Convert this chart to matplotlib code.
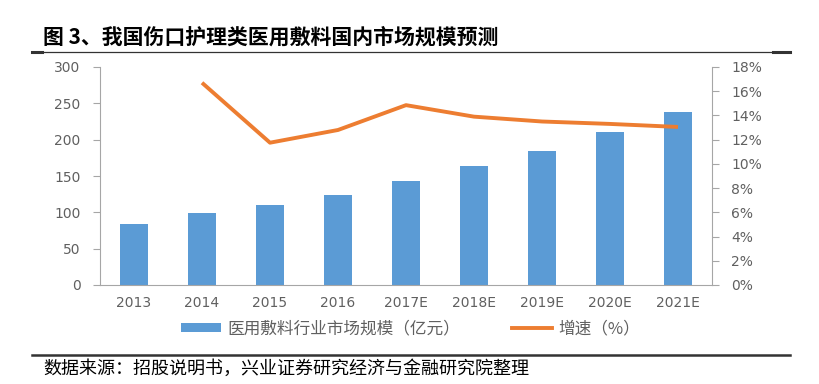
import matplotlib
matplotlib.use("Agg")
import matplotlib.pyplot as plt
from matplotlib.lines import Line2D
from matplotlib.patches import Patch

plt.rcParams['font.family'] = ['Noto Sans CJK SC', 'DejaVu Sans']

categories = ["2013", "2014", "2015", "2016", "2017E", "2018E", "2019E", "2020E", "2021E"]
market_size = [84.5, 99, 110.7, 124.5, 143.7, 164, 185, 210.8, 238.4]
growth_cats = ["2014", "2015", "2016", "2017E", "2018E", "2019E", "2020E", "2021E"]
growth = [16.7, 11.75, 12.8, 14.85, 13.9, 13.5, 13.3, 13.05]
left_ticks = [0, 50, 100, 150, 200, 250, 300]
right_ticks = [0, 2, 4, 6, 8, 10, 12, 14, 16, 18]

title = "图 3、我国伤口护理类医用敷料国内市场规模预测"
source = "数据来源：招股说明书，兴业证券研究经济与金融研究院整理"
bar_label = "医用敷料行业市场规模（亿元）"
line_label = "增速（%）"

W, H = 820, 384
fig = plt.figure(figsize=(W / 100, H / 100), dpi=100)
ax = fig.add_axes([100 / W, 1 - 285 / H, 612 / W, 218 / H])
ax2 = ax.twinx()

blue = "#5B9BD5"
orange = "#ED7D31"
grey = "#A6A6A6"
tick_col = "#606060"

x = list(range(len(categories)))
ax.bar(x, market_size, width=0.4, color=blue, zorder=2)
gx = [categories.index(c) for c in growth_cats]
ax2.plot(gx, growth, color=orange, lw=2.8, solid_capstyle='butt', solid_joinstyle='round')

ax.set_xlim(-0.5, len(categories) - 0.5)
ax.set_ylim(0, 300)
ax2.set_ylim(0, 18)
ax.set_yticks(left_ticks)
ax2.set_yticks(right_ticks)
ax2.set_yticklabels([f"{t}%" for t in right_ticks])
ax.set_xticks(x)
ax.set_xticklabels(categories)

for a in (ax, ax2):
    a.spines["top"].set_visible(False)
    a.spines["left"].set_color(grey)
    a.spines["right"].set_color(grey)
    a.spines["bottom"].set_color(grey)
ax.spines["right"].set_visible(False)
ax2.spines["left"].set_visible(False)
ax2.spines["bottom"].set_visible(False)

ax.tick_params(axis='y', colors=grey, labelcolor=tick_col, length=5, width=0.8,
               labelsize=10, pad=9, labelfontfamily='DejaVu Sans')
ax2.tick_params(axis='y', colors=grey, labelcolor=tick_col, length=5, width=0.8,
                labelsize=10, pad=9, labelfontfamily='DejaVu Sans')
ax.tick_params(axis='x', length=0, labelcolor=tick_col, labelsize=10, pad=8,
               labelfontfamily='DejaVu Sans')

# title and rules
fig.text(43 / W, 1 - 37 / H, title, fontsize=15, fontweight='bold', color='black',
         va='center', ha='left')
fig.add_artist(Line2D([32 / W, 790 / W], [1 - 52 / H, 1 - 52 / H], color='#333333', lw=0.9))
fig.add_artist(Line2D([32 / W, 42 / W], [1 - 52 / H, 1 - 52 / H], color='#333333', lw=2.2))
fig.add_artist(Line2D([773 / W, 790 / W], [1 - 52 / H, 1 - 52 / H], color='#333333', lw=2.2))
fig.add_artist(Line2D([32 / W, 790 / W], [1 - 355 / H, 1 - 355 / H], color='#333333', lw=1.8))
fig.text(43 / W, 1 - 369 / H, source, fontsize=13, color='black', va='center', ha='left')

handles = [Patch(facecolor=blue, edgecolor='none'),
           Line2D([0], [0], color=orange, lw=2.8)]
leg = fig.legend(handles, [bar_label, line_label], loc='center left',
                 bbox_to_anchor=(166 / W, 1 - 329 / H), ncol=2, frameon=False,
                 fontsize=12, handlelength=2.4, handleheight=0.4, columnspacing=3.1,
                 handletextpad=0.4)
for t in leg.get_texts():
    t.set_color(tick_col)

fig.savefig("out.png", dpi=100)
